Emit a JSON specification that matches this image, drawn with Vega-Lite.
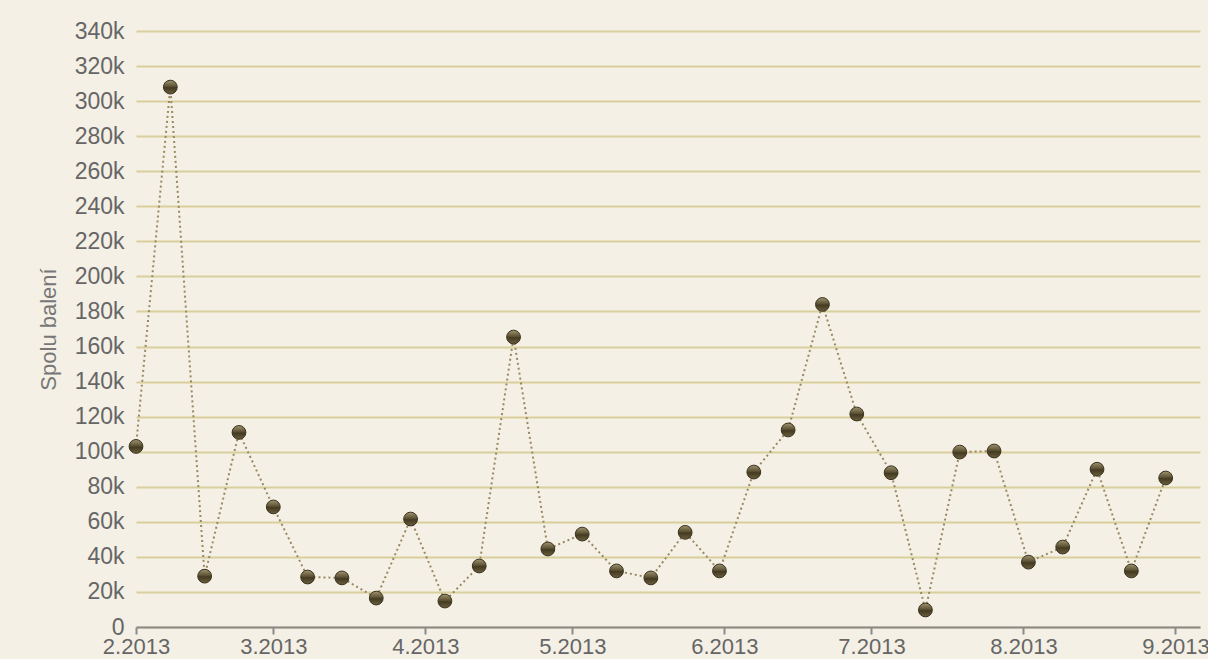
{
  "$schema": "https://vega.github.io/schema/vega-lite/v6.json",
  "width": 1064,
  "height": 596,
  "autosize": {"type": "none"},
  "padding": {"left": 136, "top": 31, "right": 8, "bottom": 32},
  "background": "#f4f0e5",
  "config": {
    "view": {"stroke": null},
    "font": "Liberation Sans"
  },
  "data": {
    "values": [
      {"date": "2013-02-01", "value": 103000},
      {"date": "2013-02-08", "value": 308000},
      {"date": "2013-02-15", "value": 29000},
      {"date": "2013-02-22", "value": 111000},
      {"date": "2013-03-01", "value": 68500},
      {"date": "2013-03-08", "value": 28500},
      {"date": "2013-03-15", "value": 28000},
      {"date": "2013-03-22", "value": 16500},
      {"date": "2013-03-29", "value": 61600},
      {"date": "2013-04-05", "value": 14800},
      {"date": "2013-04-12", "value": 34800},
      {"date": "2013-04-19", "value": 165400},
      {"date": "2013-04-26", "value": 44500},
      {"date": "2013-05-03", "value": 53000},
      {"date": "2013-05-10", "value": 32000},
      {"date": "2013-05-17", "value": 28000},
      {"date": "2013-05-24", "value": 54000},
      {"date": "2013-05-31", "value": 32000},
      {"date": "2013-06-07", "value": 88400},
      {"date": "2013-06-14", "value": 112400},
      {"date": "2013-06-21", "value": 184000},
      {"date": "2013-06-28", "value": 121500},
      {"date": "2013-07-05", "value": 88000},
      {"date": "2013-07-12", "value": 9700},
      {"date": "2013-07-19", "value": 99800},
      {"date": "2013-07-26", "value": 100400},
      {"date": "2013-08-02", "value": 37000},
      {"date": "2013-08-09", "value": 45600},
      {"date": "2013-08-16", "value": 90000},
      {"date": "2013-08-23", "value": 32000},
      {"date": "2013-08-30", "value": 85000}
    ]
  },
  "encoding": {
    "x": {
      "field": "date",
      "type": "temporal",
      "scale": {
        "type": "utc",
        "domain": [
          {"year": 2013, "month": 2, "date": 1, "utc": true},
          {"year": 2013, "month": 9, "date": 6, "utc": true}
        ]
      },
      "axis": {
        "title": null,
        "labelExpr": "utcFormat(datum.value, '%-m.%Y')",
        "values": [
          {"year": 2013, "month": 2, "date": 1, "utc": true},
          {"year": 2013, "month": 3, "date": 1, "utc": true},
          {"year": 2013, "month": 4, "date": 1, "utc": true},
          {"year": 2013, "month": 5, "date": 1, "utc": true},
          {"year": 2013, "month": 6, "date": 1, "utc": true},
          {"year": 2013, "month": 7, "date": 1, "utc": true},
          {"year": 2013, "month": 8, "date": 1, "utc": true},
          {"year": 2013, "month": 9, "date": 1, "utc": true}
        ],
        "grid": false,
        "domainColor": "#8a8a8a",
        "domainWidth": 2,
        "tickColor": "#8a8a8a",
        "tickWidth": 2,
        "tickSize": 7,
        "labelColor": "#666666",
        "labelFontSize": 22,
        "labelPadding": 2,
        "labelOverlap": false,
        "labelBound": false,
        "labelFlush": false
      }
    },
    "y": {
      "field": "value",
      "type": "quantitative",
      "scale": {"domain": [0, 340000], "nice": false},
      "axis": {
        "title": "Spolu balení",
        "titleColor": "#777777",
        "titleFontSize": 22,
        "titleFontWeight": "normal",
        "titlePadding": 14,
        "values": [0,20000,40000,60000,80000,100000,120000,140000,160000,180000,200000,220000,240000,260000,280000,300000,320000,340000],
        "labelExpr": "datum.value == 0 ? '0' : format(datum.value / 1000, 'd') + 'k'",
        "domain": false,
        "ticks": false,
        "labelPadding": 12,
        "labelColor": "#666666",
        "labelFontSize": 23,
        "gridColor": "#d8cf9c",
        "gridWidth": 2
      }
    }
  },
  "layer": [
    {
      "mark": {
        "type": "line",
        "color": "#9a8860",
        "strokeWidth": 2,
        "strokeDash": [2, 3]
      }
    },
    {
      "mark": {
        "type": "point",
        "filled": true,
        "size": 190,
        "opacity": 1,
        "stroke": "#3a321e",
        "strokeWidth": 1,
        "fill": {
          "gradient": "linear",
          "x1": 0, "y1": 0, "x2": 0, "y2": 1,
          "stops": [
            {"offset": 0, "color": "#a09470"},
            {"offset": 0.45, "color": "#5c5233"},
            {"offset": 0.55, "color": "#433a22"},
            {"offset": 1, "color": "#6b5f3c"}
          ]
        }
      }
    }
  ]
}
